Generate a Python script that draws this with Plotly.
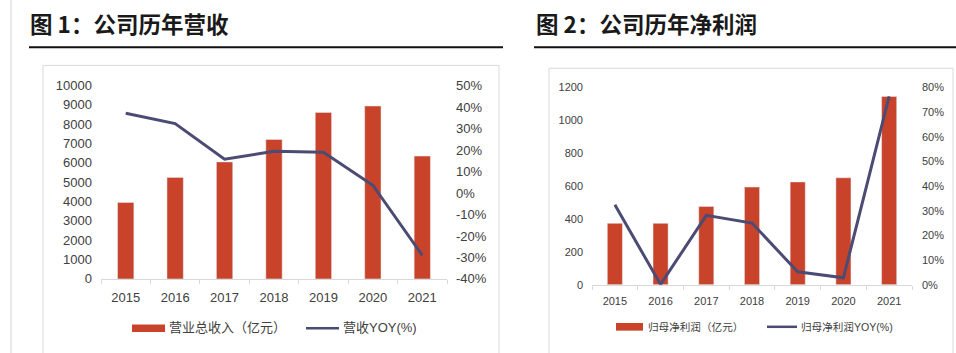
import plotly.graph_objects as go

W, H = 956, 353

years = ["2015", "2016", "2017", "2018", "2019", "2020", "2021"]
revenue = [3950, 5250, 6050, 7210, 8610, 8940, 6350]
revenue_yoy = [37.1, 32.3, 15.7, 19.4, 18.9, 3.6, -29.0]
profit = [373, 373, 476, 594, 625, 650, 1145]
profit_yoy = [32.4, 0.1, 28.1, 25.0, 5.2, 2.8, 76.4]

rev_ticks = [0, 1000, 2000, 3000, 4000, 5000, 6000, 7000, 8000, 9000, 10000]
rev_text = ["0", "1000", "2000", "3000", "4000", "5000", "6000", "7000", "8000", "9000", "10000"]
rev_yoy_ticks = [-40, -30, -20, -10, 0, 10, 20, 30, 40, 50]
rev_yoy_text = ["-40%", "-30%", "-20%", "-10%", "0%", "10%", "20%", "30%", "40%", "50%"]
pro_ticks = [0, 200, 400, 600, 800, 1000, 1200]
pro_text = ["0", "200", "400", "600", "800", "1000", "1200"]
pro_yoy_ticks = [0, 10, 20, 30, 40, 50, 60, 70, 80]
pro_yoy_text = ["0%", "10%", "20%", "30%", "40%", "50%", "60%", "70%", "80%"]

BAR = "#c8432a"
LINE = "#4b4b73"
TICK = "#404040"
AX = "#d9d9d9"
CJK = "Noto Sans CJK SC"
LAT = "Liberation Sans, Arial"
MIX = "Liberation Sans, Noto Sans CJK SC"


def xp(px):
    return px / W


def yp(py):
    return 1 - py / H


fig = go.Figure()
fig.add_trace(go.Bar(x=years, y=revenue, marker_color=BAR, xaxis="x", yaxis="y", name="营业总收入（亿元）"))
fig.add_trace(go.Scatter(x=years, y=revenue_yoy, mode="lines", line=dict(color=LINE, width=3),
                         xaxis="x", yaxis="y2", name="营收YOY(%)"))
fig.add_trace(go.Bar(x=years, y=profit, marker_color=BAR, xaxis="x3", yaxis="y3", name="归母净利润（亿元）"))
fig.add_trace(go.Scatter(x=years, y=profit_yoy, mode="lines", line=dict(color=LINE, width=3),
                         xaxis="x3", yaxis="y4", name="归母净利润YOY(%)"))

lf = dict(family=LAT, size=13, color=TICK)
rf = dict(family=LAT, size=11, color=TICK)

xcommon = dict(type="category", showgrid=False, showline=True, linecolor=AX, linewidth=1,
               ticks="outside", tickson="boundaries", ticklen=4, tickcolor=AX, zeroline=False,
               range=[-0.5, 6.5], fixedrange=True)

fig.update_layout(
    width=W, height=H, margin=dict(l=0, r=0, t=0, b=0),
    paper_bgcolor="white", plot_bgcolor="white", showlegend=False, bargap=0.67,
    xaxis=dict(xcommon, domain=[xp(101), xp(447)], anchor="y", tickfont=lf, ticklabelstandoff=6),
    yaxis=dict(domain=[yp(284), yp(82)], anchor="x", range=[0, 10000], tickvals=rev_ticks,
               ticktext=rev_text, showgrid=False, zeroline=False, showline=False, tickfont=lf,
               ticklabelstandoff=8),
    yaxis2=dict(overlaying="y", side="right", anchor="x", range=[-40, 50], tickvals=rev_yoy_ticks,
                ticktext=rev_yoy_text, showgrid=False, zeroline=False, showline=False, tickfont=lf,
                ticklabelstandoff=8),
    xaxis3=dict(xcommon, domain=[xp(592), xp(912)], anchor="y3", tickfont=rf, ticklabelstandoff=6),
    yaxis3=dict(domain=[yp(290), yp(84)], anchor="x3", range=[0, 1200], tickvals=pro_ticks,
                ticktext=pro_text, showgrid=False, zeroline=False, showline=False, tickfont=rf,
                ticklabelstandoff=8),
    yaxis4=dict(overlaying="y3", side="right", anchor="x3", range=[0, 80], tickvals=pro_yoy_ticks,
                ticktext=pro_yoy_text, showgrid=False, zeroline=False, showline=False, tickfont=rf,
                ticklabelstandoff=9),
)

shapes = [
    dict(type="line", xref="paper", yref="paper", x0=xp(11), x1=xp(11), y0=-0.05, y1=1.05,
         line=dict(color="#d0d0d0", width=1)),
    dict(type="line", xref="paper", yref="paper", x0=xp(29), x1=xp(503), y0=yp(42), y1=yp(42),
         line=dict(color="#111111", width=2)),
    dict(type="line", xref="paper", yref="paper", x0=xp(534), x1=xp(960), y0=yp(42), y1=yp(42),
         line=dict(color="#111111", width=2)),
    dict(type="rect", xref="paper", yref="paper", x0=xp(43), x1=xp(499), y0=-0.05, y1=yp(61),
         line=dict(color=AX, width=1)),
    dict(type="rect", xref="paper", yref="paper", x0=xp(549), x1=xp(953), y0=-0.05, y1=yp(64),
         line=dict(color=AX, width=1)),
    # legend swatches
    dict(type="rect", xref="paper", yref="paper", x0=xp(132), x1=xp(165), y0=yp(339.5), y1=yp(331.5),
         fillcolor=BAR, line=dict(width=0)),
    dict(type="line", xref="paper", yref="paper", x0=xp(306), x1=xp(339), y0=yp(335.5), y1=yp(335.5),
         line=dict(color=LINE, width=2.5)),
    dict(type="rect", xref="paper", yref="paper", x0=xp(616), x1=xp(643), y0=yp(338), y1=yp(330),
         fillcolor=BAR, line=dict(width=0)),
    dict(type="line", xref="paper", yref="paper", x0=xp(767), x1=xp(797), y0=yp(334), y1=yp(334),
         line=dict(color=LINE, width=2.5)),
]
fig.update_layout(shapes=shapes)

ann = [
    dict(text="<b>图 1：公司历年营收</b>", x=xp(28), y=yp(17), xanchor="left", yanchor="middle",
         font=dict(family=CJK, size=22.5, color="#1a1a1a")),
    dict(text="<b>图 2：公司历年净利润</b>", x=xp(534), y=yp(17), xanchor="left", yanchor="middle",
         font=dict(family=CJK, size=22.5, color="#1a1a1a")),
    dict(text="营业总收入（亿元）", x=xp(167), y=yp(335), xanchor="left", yanchor="middle",
         font=dict(family=MIX, size=13, color=TICK)),
    dict(text="营收YOY(%)", x=xp(341), y=yp(335), xanchor="left", yanchor="middle",
         font=dict(family=MIX, size=13, color=TICK)),
    dict(text="归母净利润（亿元）", x=xp(646), y=yp(334), xanchor="left", yanchor="middle",
         font=dict(family=MIX, size=10.6, color=TICK)),
    dict(text="归母净利润YOY(%)", x=xp(799), y=yp(334), xanchor="left", yanchor="middle",
         font=dict(family=MIX, size=10.6, color=TICK)),
]
for a in ann:
    a.update(xref="paper", yref="paper", showarrow=False)
fig.update_layout(annotations=ann)

fig.write_html("out.html")
